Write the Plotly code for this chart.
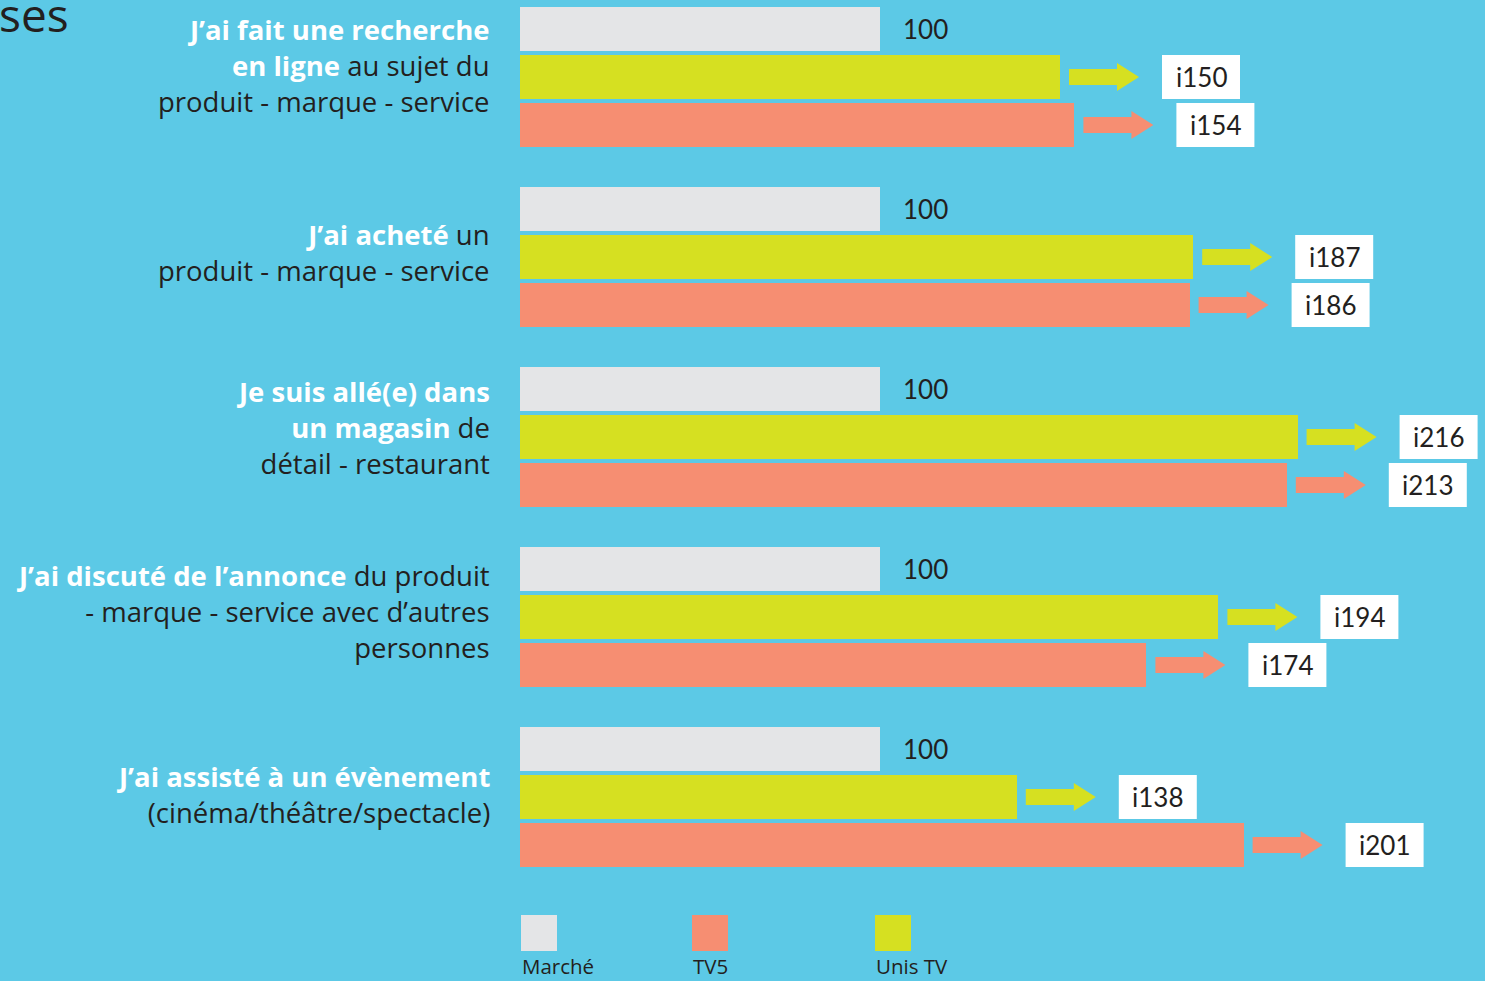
import plotly.graph_objects as go

# ---------------- data ----------------
categories = [
    "<b><span style='color:#ffffff'>J’ai fait une recherche</span></b><br><b><span style='color:#ffffff'>en ligne</span></b> au sujet du<br>produit - marque - service",
    "<b><span style='color:#ffffff'>J’ai acheté</span></b> un<br>produit - marque - service",
    "<b><span style='color:#ffffff'>Je suis allé(e) dans</span></b><br><b><span style='color:#ffffff'>un magasin</span></b> de<br>détail - restaurant",
    "<b><span style='color:#ffffff'>J’ai discuté de l’annonce</span></b> du produit<br>- marque - service avec d’autres<br>personnes",
    "<b><span style='color:#ffffff'>J’ai assisté à un évènement</span></b><br>(cinéma/théâtre/spectacle)",
]
marche = [100, 100, 100, 100, 100]
unis_tv = [150, 187, 216, 194, 138]
tv5 = [154, 186, 213, 174, 201]
series_names = ["Marché", "Unis TV", "TV5"]
label_prefix = "i"

# ---------------- style ----------------
BG = "#5CC9E6"
GREY = "#E4E5E7"
YELLOW = "#D6E021"
SALMON = "#F68E72"
DARK = "#231F20"
FONT = "Open Sans"
NUM_FONT = "Lato"

W, H = 1485, 981
PX_PER_UNIT = 3.6
X0_PX = 520
GROUP_STEP = 180
BAR_STEP = 48
FIRST_CENTER = 29
BAR_H = 44
label_offsets = [-12, -5, -10, -6, -3]

def bar_y(g, s):
    return FIRST_CENTER + g * GROUP_STEP + s * BAR_STEP

n = len(categories)
series = [(marche, GREY), (unis_tv, YELLOW), (tv5, SALMON)]

fig = go.Figure()
for s, ((vals, col), name) in enumerate(zip(series, series_names)):
    fig.add_trace(go.Bar(
        x=vals, y=[bar_y(g, s) for g in range(n)], orientation="h",
        width=BAR_H, marker=dict(color=col, line=dict(width=0)),
        name=name, showlegend=False, hoverinfo="x+name",
    ))

shapes = []
annotations = []
u = 1 / PX_PER_UNIT
for g in range(n):
    # category label
    annotations.append(dict(
        x=492 / W, xref="paper", y=bar_y(g, 1) + label_offsets[g], yref="y",
        text=categories[g], showarrow=False, xanchor="right", yanchor="middle",
        align="right", font=dict(family=FONT, size=27.5, color=DARK),
    ))
    # "100" label for market
    annotations.append(dict(
        x=marche[g] + 21 * u, y=bar_y(g, 0), xref="x", yref="y",
        text=str(marche[g]), showarrow=False, xanchor="left", yanchor="middle",
        font=dict(family=NUM_FONT, size=26, color=DARK),
    ))
    for s, (vals, col) in [(1, (unis_tv, YELLOW)), (2, (tv5, SALMON))]:
        e = vals[g]
        yc = bar_y(g, s)
        xa = e + 9 * u
        xb = xa + 48 * u
        xc = xa + 70 * u
        path = (f"M {xa},{yc-8} L {xb},{yc-8} L {xb},{yc-14} L {xc},{yc} "
                f"L {xb},{yc+14} L {xb},{yc+8} L {xa},{yc+8} Z")
        shapes.append(dict(type="path", path=path, xref="x", yref="y",
                           fillcolor=col, line=dict(width=0), layer="above"))
        bx0 = e + 102 * u
        bx1 = bx0 + 78 * u
        shapes.append(dict(type="rect", x0=bx0, x1=bx1, y0=yc - 22, y1=yc + 22,
                           xref="x", yref="y", fillcolor="#ffffff",
                           line=dict(width=0), layer="above"))
        annotations.append(dict(
            x=(bx0 + bx1) / 2, y=yc, xref="x", yref="y",
            text=f"{label_prefix}{e}", showarrow=False, xanchor="center",
            yanchor="middle", font=dict(family=NUM_FONT, size=26, color=DARK),
        ))

# legend (custom)
legend_items = [("Marché", GREY, 521), ("TV5", SALMON, 692), ("Unis TV", YELLOW, 875)]
for name, col, lx in legend_items:
    shapes.append(dict(type="rect", xref="paper", yref="paper",
                       x0=lx / W, x1=(lx + 36) / W, y0=1 - 951 / H, y1=1 - 915 / H,
                       fillcolor=col, line=dict(width=0)))
    annotations.append(dict(x=(lx - 1) / W, y=1 - 966 / H, xref="paper", yref="paper",
                            text=name, showarrow=False, xanchor="left", yanchor="middle",
                            font=dict(family=FONT, size=20.5, color=DARK)))

# cropped title fragment
annotations.append(dict(x=-3 / W, y=1 - 14 / H, xref="paper", yref="paper",
                        text="ses", showarrow=False, xanchor="left", yanchor="middle",
                        font=dict(family=FONT, size=46, color=DARK)))

fig.update_layout(
    width=W, height=H, margin=dict(l=0, r=0, t=0, b=0),
    paper_bgcolor=BG, plot_bgcolor=BG,
    barmode="overlay", bargap=0,
    xaxis=dict(range=[-X0_PX / PX_PER_UNIT, (W - X0_PX) / PX_PER_UNIT],
               visible=False, fixedrange=True),
    yaxis=dict(range=[H, 0], visible=False, fixedrange=True),
    shapes=shapes, annotations=annotations, showlegend=False,
)

fig.write_html("out.html")
